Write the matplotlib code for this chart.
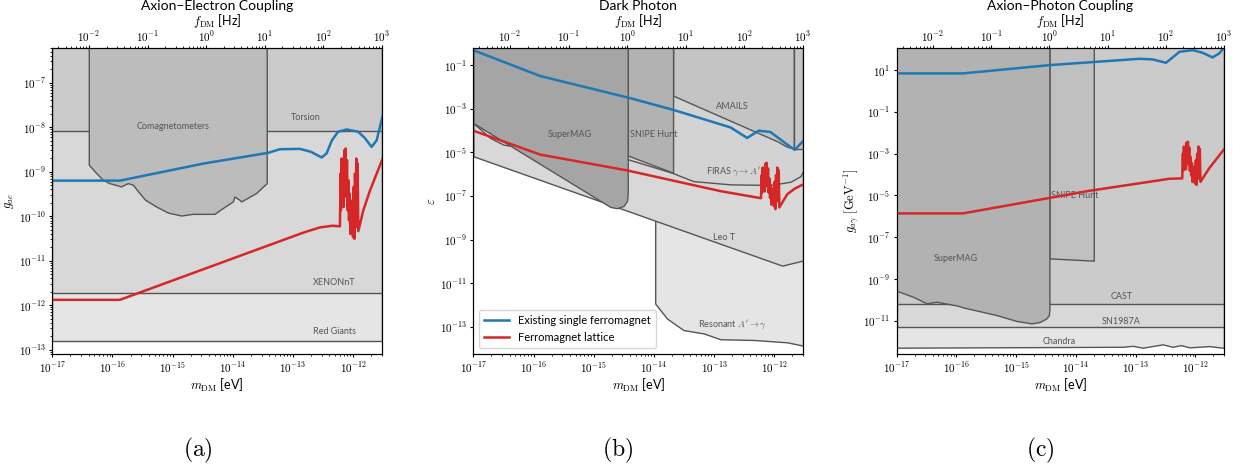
import numpy as np
import matplotlib
matplotlib.use("Agg")
import matplotlib.pyplot as plt
from matplotlib.ticker import FuncFormatter, NullLocator, NullFormatter

plt.rcParams['font.family'] = ['Lato', 'DejaVu Sans']
plt.rcParams['mathtext.fontset'] = 'cm'
plt.rcParams['xtick.major.size'] = 2.5
plt.rcParams['ytick.major.size'] = 2.5
plt.rcParams['xtick.minor.size'] = 1.5
plt.rcParams['ytick.minor.size'] = 1.5

M_MIN = 1e-17
M_MAX = 3.0e-12

# masses of the resonance band (same in every panel)
m_res = [6.01e-13, 6.17e-13, 6.25e-13, 6.41e-13, 6.58e-13, 6.75e-13, 6.93e-13, 7.11e-13,
         7.29e-13, 7.48e-13, 7.67e-13, 7.87e-13, 8.07e-13, 8.28e-13, 8.50e-13, 8.72e-13,
         8.94e-13, 9.17e-13, 9.41e-13, 9.65e-13, 9.90e-13, 1.016e-12, 1.042e-12, 1.069e-12,
         1.096e-12, 1.125e-12, 1.154e-12, 1.183e-12, 1.214e-12]

# ---------------- (a) axion-electron ----------------
ae_single_m = [1e-17, 1.33e-16, 3.3e-15, 3.83e-14, 6.05e-14, 1.3e-13, 1.98e-13, 2.99e-13, 3.6e-13,
               4.43e-13, 5.6e-13, 7.76e-13, 1.21e-12, 1.56e-12, 2.02e-12, 2.45e-12, 3.1e-12]
ae_single_g = [6.3e-10, 6.3e-10, 1.53e-9, 2.65e-9, 3.2e-9, 3.26e-9, 2.8e-9, 2.09e-9, 2.57e-9,
               5.1e-9, 7.9e-9, 8.9e-9, 7.9e-9, 5.7e-9, 3.6e-9, 5.1e-9, 1.87e-8]
ae_lat_lo_m = [1e-17, 1.33e-16, 1.5e-13, 2.8e-13, 4.5e-13]
ae_lat_lo_g = [1.32e-12, 1.32e-12, 4.3e-11, 5.6e-11, 6.1e-11]
ae_lat_res_g = [5.92e-11, 9.1e-10, 1.36e-10, 1.98e-9, 2.28e-10, 1.53e-9, 1.61e-10, 3.05e-9,
                4.55e-10, 3.32e-9, 2.71e-10, 1.82e-9, 1.36e-10, 6.4e-10, 8.1e-11, 3.2e-10,
                4.0e-11, 1.61e-10, 4.8e-11, 2.28e-10, 3.4e-11, 4.55e-10, 3.1e-11, 9.1e-10,
                6.8e-11, 1.98e-9, 5.7e-11, 1.53e-9, 4.6e-11]
ae_lat_hi_m = [1.47e-12, 1.9e-12, 2.93e-12, 3.1e-12]
ae_lat_hi_g = [1.36e-10, 3.8e-10, 1.66e-9, 2.0e-9]

ae_redgiants = 1.55e-13
ae_xenon = 1.9e-12
ae_torsion = 8.2e-9
comag_m = [4.12e-17, 5.47e-17, 7.04e-17, 9.08e-17, 1.42e-16, 1.83e-16, 2.22e-16, 2.86e-16,
           3.56e-16, 5.42e-16, 8.45e-16, 1.41e-15, 2.2e-15, 5.05e-15, 6.52e-15, 1.02e-14,
           1.08e-14, 1.31e-14, 1.40e-14, 2.48e-14, 3.72e-14]
comag_g = [1.40e-9, 9.1e-10, 6.4e-10, 5.4e-10, 4.55e-10, 5.4e-10, 4.97e-10, 3.23e-10,
           2.28e-10, 1.61e-10, 1.18e-10, 1.01e-10, 1.10e-10, 1.10e-10, 1.41e-10, 2.09e-10,
           2.7e-10, 2.28e-10, 2.09e-10, 3.23e-10, 5.4e-10]

# ---------------- (b) dark photon ----------------
dp_single_m = [1e-17, 1.29e-16, 4.05e-15, 2.08e-14, 1.87e-13, 3.54e-13, 5.5e-13, 8.6e-13,
               1.64e-12, 2.19e-12, 3.1e-12]
dp_single_e = [0.48, 0.0315, 3.04e-3, 8.9e-4, 1.39e-4, 4.57e-5, 9.8e-5, 8.6e-5,
               2.26e-5, 1.3e-5, 3.6e-5]
dp_lat_lo_m = [1e-17, 1.29e-16, 3.6e-15, 1.27e-13]
dp_lat_lo_e = [9.8e-5, 7.9e-6, 1.48e-6, 1.67e-7]
dp_lat_res_e = [7.9e-8, 9.1e-7, 1.4e-7, 2.0e-6, 2.3e-7, 1.5e-6, 1.6e-7, 3.0e-6,
                4.5e-7, 3.3e-6, 2.7e-7, 1.8e-6, 1.4e-7, 6.4e-7, 8.1e-8, 3.2e-7,
                4.0e-8, 1.6e-7, 4.8e-8, 2.3e-7, 3.4e-8, 4.5e-7, 2.5e-8, 9.1e-7,
                6.8e-8, 2.0e-6, 5.7e-8, 1.5e-6, 3.0e-8]
dp_lat_hi_m = [1.64e-12, 2.2e-12, 3.1e-12]
dp_lat_hi_e = [1.2e-7, 2.2e-7, 3.5e-7]

resonant_m = [1.05e-14, 1.65e-14, 3.1e-14, 6.7e-14, 1.27e-13, 4.6e-13, 1.64e-12, 3.0e-12]
resonant_e = [1.17e-12, 2.4e-13, 7.1e-14, 5.0e-14, 2.7e-14, 2.5e-14, 1.95e-14, 1.38e-14]
leot_m = [1e-17, 1.35e-12, 3.0e-12]
leot_e = [6.6e-6, 6.4e-11, 1.1e-10]
firas_m = [1e-17, 1.9e-17, 3.16e-17, 4.6e-17, 3.8e-15, 2.0e-14, 4.5e-14, 1.87e-13,
           8.65e-13, 1.86e-12, 2.73e-12, 3.0e-12]
firas_e = [2.2e-4, 4.58e-5, 2.26e-5, 1.9e-5, 4.7e-6, 1.16e-6, 4.8e-7, 3.4e-7,
           3.2e-7, 4.5e-7, 8.1e-7, 1.38e-6]
amails_m = [2.08e-14, 1.12e-12, 1.6e-12, 2.11e-12]
amails_e = [4.0e-3, 3.2e-5, 1.84e-5, 1.49e-5]
amails2_m = [2.11e-12, 3.0e-12]
amails2_e = [1.49e-5, 1.49e-5]
dp_snipe_m = [3.67e-15, 2.08e-14]
dp_snipe_e = [7.2e-6, 1.16e-6]
dp_supermag_m = [1e-17, 1.88e-15, 2.43e-15, 3.13e-15, 3.56e-15, 3.67e-15]
dp_supermag_e = [2.2e-4, 3.15e-8, 2.75e-8, 3.5e-8, 5.9e-8, 1.2e-7]

# ---------------- (c) axion-photon ----------------
ag_single_m = [1e-17, 1.29e-16, 3.6e-15, 2.18e-14, 1.15e-13, 1.92e-13, 3.22e-13, 5.4e-13,
               8.95e-13, 1.32e-12, 1.93e-12, 2.5e-12, 3.1e-12]
ag_single_g = [6.95, 6.95, 17.3, 24.9, 34.8, 32.5, 22.4, 75, 90.6, 67.3, 40.5, 63, 130]
ag_lat_lo_m = [1e-17, 1.29e-16, 1.69e-14, 3.66e-13]
ag_lat_lo_g = [1.39e-6, 1.39e-6, 1.68e-5, 6.3e-5]
ag_lat_res_g = [6.6e-5, 1.0e-3, 1.5e-4, 2.2e-3, 2.5e-4, 1.7e-3, 1.8e-4, 3.4e-3,
                5.0e-4, 3.7e-3, 3.0e-4, 2.0e-3, 1.5e-4, 7.0e-4, 8.9e-5, 3.5e-4,
                4.4e-5, 1.8e-4, 5.3e-5, 2.5e-4, 3.7e-5, 5.0e-4, 3.2e-5, 1.0e-3,
                7.5e-5, 2.2e-3, 6.3e-5, 1.7e-3, 4.5e-5]
ag_lat_hi_m = [1.5e-12, 1.7e-12, 2.93e-12, 3.1e-12]
ag_lat_hi_g = [1.15e-4, 2.0e-4, 1.48e-3, 1.8e-3]

chandra_m = [1e-17, 6.07e-14, 8.9e-14, 1.31e-13, 2.82e-13, 4.13e-13, 5.7e-13, 7.9e-13,
             1.7e-12, 2.85e-12, 3.0e-12]
chandra_g = [5.2e-13, 5.75e-13, 6.4e-13, 5.2e-13, 7.5e-13, 5.75e-13, 6.9e-13, 5.4e-13,
             6.2e-13, 5.2e-13, 5.2e-13]
ag_sn1987a = 5.2e-12
ag_cast = 6.6e-11
ag_snipe_m = [3.6e-15, 1.99e-14]
ag_snipe_g = [9.8e-9, 7.6e-9]
ag_supermag_m = [1e-17, 1.89e-17, 3.17e-17, 4.65e-17, 1e-16, 1.3e-16, 4.67e-16, 1e-15,
                 1.8e-15, 2.47e-15, 3.19e-15, 3.53e-15, 3.6e-15]
ag_supermag_g = [2.75e-10, 1.42e-10, 6.9e-11, 8.2e-11, 5.5e-11, 4.4e-11, 1.9e-11, 1.0e-11,
                 7.6e-12, 8.8e-12, 1.3e-11, 1.9e-11, 4e-11]

mass_ticks = [1e-17, 1e-16, 1e-15, 1e-14, 1e-13, 1e-12]
freq_ticks = [1e-2, 1e-1, 1e0, 1e1, 1e2, 1e3]

EDGE = '#555555'
TXT = '#555555'
BLUE = '#1f77b4'
RED = '#d62728'


def region(ax, m, low, color, top=1e6):
    ax.fill_between(m, low, top, facecolor=color, edgecolor=EDGE, linewidth=1.0, zorder=1)


def sci(v, pos):
    return r'$10^{%d}$' % int(round(np.log10(v)))


def setup(ax, title, ylabel, yticks):
    ax.set_xscale('log')
    ax.set_yscale('log')
    ax.set_xlim(M_MIN, M_MAX)
    ax.set_xticks(mass_ticks)
    ax.set_yticks(yticks)
    ax.xaxis.set_major_formatter(FuncFormatter(sci))
    ax.yaxis.set_major_formatter(FuncFormatter(sci))
    ax.xaxis.set_minor_formatter(NullFormatter())
    ax.yaxis.set_minor_formatter(NullFormatter())
    ax.tick_params(labelsize=8, pad=2)
    ax.set_xlabel(r'$m_{\rm DM}$ [eV]', fontsize=9, labelpad=1)
    ax.set_ylabel(ylabel, fontsize=9, labelpad=2)
    tw = ax.twiny()
    tw.set_xscale('log')
    tw.set_xlim(2.37e-3, 1e3)
    tw.set_xticks(freq_ticks)
    tw.xaxis.set_major_formatter(FuncFormatter(sci))
    tw.xaxis.set_minor_formatter(NullFormatter())
    tw.tick_params(labelsize=8, pad=0.5)
    tw.set_xlabel(r'$f_{\rm DM}$ [Hz]', fontsize=9, labelpad=3)
    tw.set_title(title, fontsize=10, pad=0)


def label(ax, x, y, s):
    ax.text(x, y, s, fontsize=6.5, color=TXT, ha='center', va='center', zorder=2)


fig = plt.figure(figsize=(12.45, 4.67), dpi=100)
ax1 = fig.add_axes([0.042, 0.242, 0.2648, 0.655])
ax2 = fig.add_axes([0.3802, 0.242, 0.2648, 0.655])
ax3 = fig.add_axes([0.7202, 0.242, 0.2629, 0.655])

# (a)
full = [M_MIN, M_MAX]
region(ax1, full, [ae_redgiants] * 2, '#e5e5e5')
region(ax1, full, [ae_xenon] * 2, '#d8d8d8')
region(ax1, full, [ae_torsion] * 2, '#cbcbcb')
region(ax1, comag_m, comag_g, '#bcbcbc')
ax1.plot(ae_single_m, ae_single_g, color=BLUE, lw=1.8, zorder=3)
ax1.plot(ae_lat_lo_m + m_res + ae_lat_hi_m, ae_lat_lo_g + ae_lat_res_g + ae_lat_hi_g,
         color=RED, lw=1.8, zorder=3)
label(ax1, 1.0e-15, 1.02e-8, 'Comagnetometers')
label(ax1, 1.64e-13, 1.69e-8, 'Torsion')
label(ax1, 4.78e-13, 3.25e-12, 'XENONnT')
label(ax1, 4.95e-13, 2.56e-13, 'Red Giants')
setup(ax1, 'Axion\u2013Electron Coupling', r'$g_{ae}$',
      [1e-13, 1e-12, 1e-11, 1e-10, 1e-9, 1e-8, 1e-7])
ax1.set_ylim(8e-14, 6e-7)

# (b)
region(ax2, resonant_m, resonant_e, '#e5e5e5')
region(ax2, leot_m, leot_e, '#d8d8d8')
region(ax2, firas_m, firas_e, '#d3d3d3')
region(ax2, amails_m, amails_e, '#c4c4c4')
region(ax2, amails2_m, amails2_e, '#c4c4c4')
region(ax2, dp_snipe_m, dp_snipe_e, '#b2b2b2')
region(ax2, dp_supermag_m, dp_supermag_e, '#a5a5a5')
ax2.plot(dp_single_m, dp_single_e, color=BLUE, lw=1.8, zorder=3,
         label='Existing single ferromagnet')
ax2.plot(dp_lat_lo_m + m_res + dp_lat_hi_m, dp_lat_lo_e + dp_lat_res_e + dp_lat_hi_e,
         color=RED, lw=1.8, zorder=3, label='Ferromagnet lattice')
label(ax2, 4.06e-16, 6.5e-5, 'SuperMAG')
label(ax2, 9.9e-15, 6.5e-5, 'SNIPE Hunt')
label(ax2, 2.0e-13, 1.26e-3, 'AMAILS')
label(ax2, 2.12e-13, 1.24e-6, r"FIRAS $\gamma\rightarrow A'$")
label(ax2, 1.48e-13, 1.3e-9, 'Leo T')
label(ax2, 2.04e-13, 1.2e-13, r"Resonant $A'\rightarrow\gamma$")
setup(ax2, 'Dark Photon', r'$\varepsilon$',
      [1e-13, 1e-11, 1e-9, 1e-7, 1e-5, 1e-3, 1e-1])
ax2.set_ylim(5.7e-15, 0.6)
ax2.yaxis.set_minor_locator(NullLocator())
ax2.legend(loc='lower left', fontsize=8, handlelength=2.2, borderpad=0.5)

# (c)
region(ax3, chandra_m, chandra_g, '#e5e5e5')
region(ax3, full, [ag_sn1987a] * 2, '#d8d8d8')
region(ax3, full, [ag_cast] * 2, '#cbcbcb')
region(ax3, ag_snipe_m, ag_snipe_g, '#c0c0c0')
region(ax3, ag_supermag_m, ag_supermag_g, '#b2b2b2')
ax3.plot(ag_single_m, ag_single_g, color=BLUE, lw=1.8, zorder=3)
ax3.plot(ag_lat_lo_m + m_res + ag_lat_hi_m, ag_lat_lo_g + ag_lat_res_g + ag_lat_hi_g,
         color=RED, lw=1.8, zorder=3)
label(ax3, 9.7e-17, 9.8e-9, 'SuperMAG')
label(ax3, 9.5e-15, 1.05e-5, 'SNIPE Hunt')
label(ax3, 5.9e-14, 1.42e-10, 'CAST')
label(ax3, 5.7e-14, 9.8e-12, 'SN1987A')
label(ax3, 5.3e-15, 1.08e-12, 'Chandra')
setup(ax3, 'Axion\u2013Photon Coupling', r'$g_{a\gamma}\ [\mathrm{GeV}^{-1}]$',
      [1e-11, 1e-9, 1e-7, 1e-5, 1e-3, 1e-1, 1e1])
ax3.set_ylim(2.6e-13, 113)
ax3.yaxis.set_minor_locator(NullLocator())

fig.text(0.159, 0.036, r'$\mathrm{(a)}$', fontsize=17, ha='center', va='center')
fig.text(0.4964, 0.036, r'$\mathrm{(b)}$', fontsize=17, ha='center', va='center')
fig.text(0.8353, 0.036, r'$\mathrm{(c)}$', fontsize=17, ha='center', va='center')

fig.savefig('out.png', dpi=100)
